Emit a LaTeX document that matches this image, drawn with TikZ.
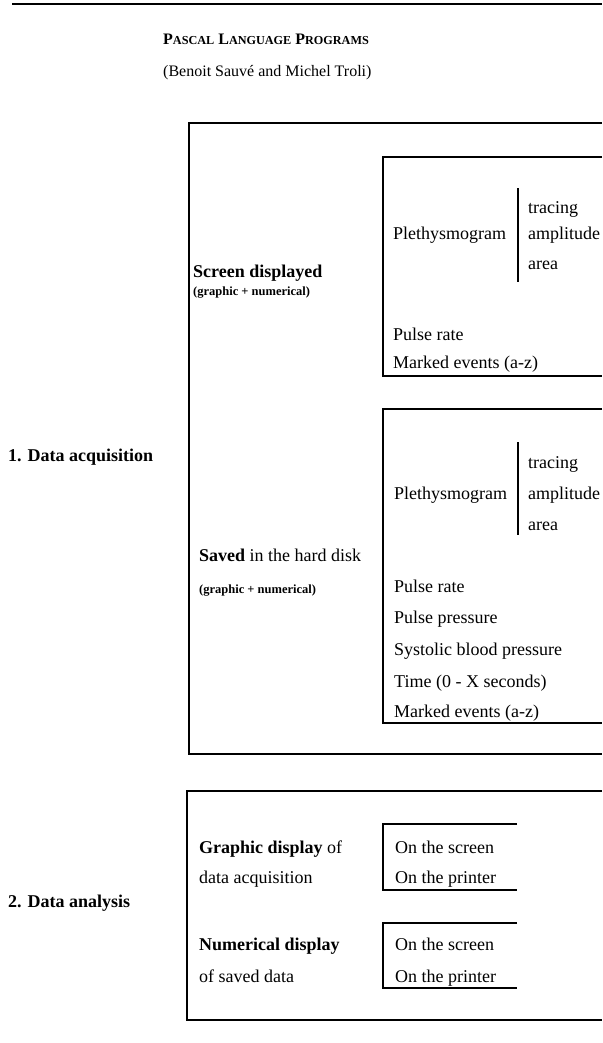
\documentclass[tikz,border=0pt]{standalone}
\usepackage{fontspec}
\setmainfont{Liberation Serif}
\newcommand\bodyfs{\fontsize{18}{20}\selectfont}
\newcommand\smallfs{\fontsize{12.5}{14}\selectfont}
\newcommand\capfs{\fontsize{12.2}{16}\selectfont}
\begin{document}
\begin{tikzpicture}[x=1pt,y=-1pt,
  txt/.style={anchor=base west,inner sep=0pt,font=\bodyfs},
  btxt/.style={txt,font=\bodyfs\bfseries},
  stxt/.style={anchor=base west,inner sep=0pt,font=\smallfs\bfseries},
  outerbox/.style={line width=2.2pt},
  innerbox/.style={line width=1.3pt},
  sep/.style={line width=1.3pt}]
\useasboundingbox (0,0) rectangle (602,1043);
% top rule
\coordinate (rl) at (12,4);
\coordinate (rr) at (602,4);
\draw[line width=2pt] (rl) -- (rr);
% title
\node[anchor=base west,inner sep=0pt,font=\fontsize{16}{20}\selectfont\bfseries] (title) at (163,45)
  {P{\capfs ASCAL} L{\capfs ANGUAGE} P{\capfs ROGRAMS}};
\node[anchor=base west,inner sep=0pt,font=\fontsize{16}{18}\selectfont] (authors) at (163,77)
  {(Benoit Sauvé and Michel Troli)};
% ---------- section 1 ----------
\coordinate (o1a) at (602,123);
\coordinate (o1b) at (189,123);
\coordinate (o1c) at (189,754);
\coordinate (o1d) at (602,754);
\draw[outerbox] (o1a) -- (o1b) -- (o1c) -- (o1d);
\node[btxt] (acq) at (8,461) {1. Data acquisition};
% inner box 1
\coordinate (i1a) at (602,157);
\coordinate (i1b) at (383,157);
\coordinate (i1c) at (383,376);
\coordinate (i1d) at (602,376);
\draw[innerbox] (i1a) -- (i1b) -- (i1c) -- (i1d);
\node[btxt] (scr) at (193,277) {Screen displayed};
\node[stxt] (scrg) at (193,295) {(graphic + numerical)};
\node[txt] (pl1) at (393,239) {Plethysmogram};
\coordinate (s1t) at (518,188);
\coordinate (s1b) at (518,282);
\draw[sep] (s1t) -- (s1b);
\node[txt] (tr1) at (528,213) {tracing};
\node[txt] (am1) at (528,239) {amplitude};
\node[txt] (ar1) at (528,269) {area};
\node[txt] (pr1) at (393,340) {Pulse rate};
\node[txt] (me1) at (393,368) {Marked events (a-z)};
% inner box 2
\coordinate (i2a) at (602,409);
\coordinate (i2b) at (383,409);
\coordinate (i2c) at (383,723);
\coordinate (i2d) at (602,723);
\draw[innerbox] (i2a) -- (i2b) -- (i2c) -- (i2d);
\node[txt] (sav) at (199,561) {\textbf{Saved} in the hard disk};
\node[stxt] (savg) at (199,593) {(graphic + numerical)};
\node[txt] (pl2) at (394,499) {Plethysmogram};
\coordinate (s2t) at (518,442);
\coordinate (s2b) at (518,535);
\draw[sep] (s2t) -- (s2b);
\node[txt] (tr2) at (528,468) {tracing};
\node[txt] (am2) at (528,499) {amplitude};
\node[txt] (ar2) at (528,530) {area};
\node[txt] (pr2) at (394,592) {Pulse rate};
\node[txt] (pp2) at (394,623) {Pulse pressure};
\node[txt] (sb2) at (394,655) {Systolic blood pressure};
\node[txt] (ti2) at (394,687) {Time (0 - X seconds)};
\node[txt] (me2) at (394,717) {Marked events (a-z)};
% ---------- section 2 ----------
\coordinate (o2a) at (602,791);
\coordinate (o2b) at (187,791);
\coordinate (o2c) at (187,1020);
\coordinate (o2d) at (602,1020);
\draw[outerbox] (o2a) -- (o2b) -- (o2c) -- (o2d);
\node[btxt] (ana) at (8,907) {2. Data analysis};
% small box a
\coordinate (a1) at (517,824);
\coordinate (a2) at (383,824);
\coordinate (a3) at (383,890);
\coordinate (a4) at (517,890);
\draw[innerbox] (a1) -- (a2) -- (a3) -- (a4);
\node[txt] (gd) at (199,853) {\textbf{Graphic display} of};
\node[txt] (gd2) at (199,883) {data acquisition};
\node[txt] (sa1) at (395,853) {On the screen};
\node[txt] (sa2) at (395,883) {On the printer};
% small box b
\coordinate (b1) at (517,923);
\coordinate (b2) at (383,923);
\coordinate (b3) at (383,988);
\coordinate (b4) at (517,988);
\draw[innerbox] (b1) -- (b2) -- (b3) -- (b4);
\node[btxt] (nd) at (199,950) {Numerical display};
\node[txt] (nd2) at (199,982) {of saved data};
\node[txt] (sb1) at (395,950) {On the screen};
\node[txt] (sb3) at (395,982) {On the printer};
\end{tikzpicture}
\end{document}
